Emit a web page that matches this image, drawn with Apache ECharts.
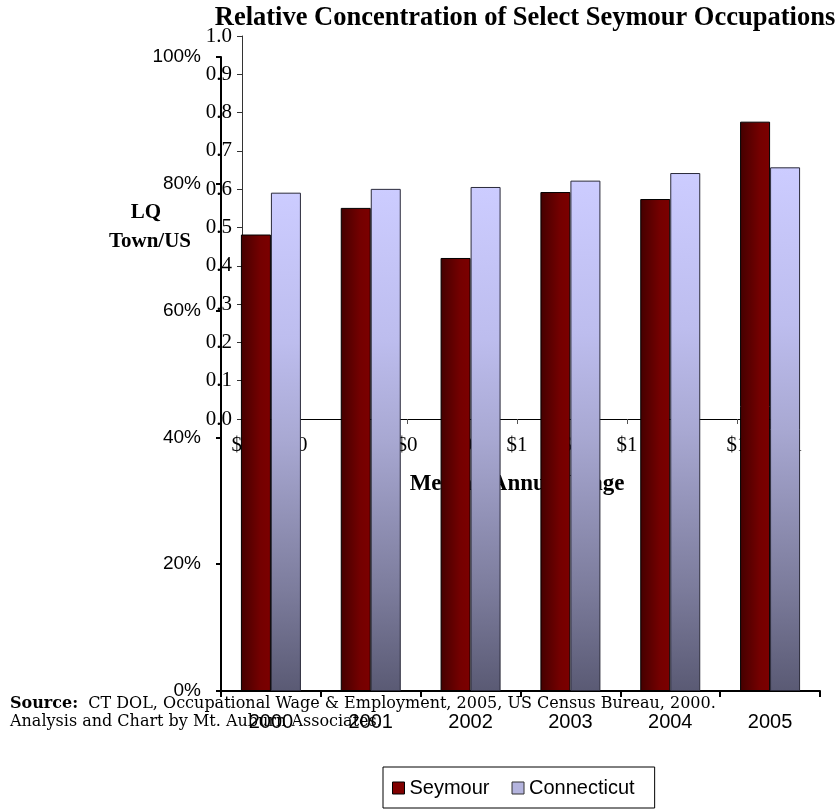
<!DOCTYPE html>
<html>
<head>
<meta charset="utf-8">
<script src="https://cdn.jsdelivr.net/npm/echarts@6/dist/echarts.min.js"></script>
<style>
html,body{margin:0;padding:0;background:#fff;}
#chart{width:840px;height:810px;}
</style>
</head>
<body>
<div id="chart"></div>
<script>
// Front chart (bars, % axis)
const years = ['2000', '2001', '2002', '2003', '2004', '2005'];
const seymour = [72.0, 76.2, 68.3, 78.7, 77.6, 89.8];
const connecticut = [78.6, 79.2, 79.5, 80.5, 81.7, 82.6];
// Back chart (LQ axis and wage axis)
const wageTicks = ['$0', '$0', '$0', '$0', '$0', '$1', '$1', '$1', '$1', '$1', '$1'];
const titleText = 'Relative Concentration of Select Seymour Occupations';
const lqName1 = 'LQ';
const lqName2 = 'Town/US';
const wageName = 'Median Annual Wage';
const sourceLine1 = 'CT DOL, Occupational Wage & Employment, 2005, US Census Bureau, 2000.';
const sourceLine2 = 'Analysis and Chart by Mt. Auburn Associates.';

const chart = echarts.init(document.getElementById('chart'));
const serif = 'Liberation Serif';
const sans = 'Liberation Sans';

const seymourGrad = new echarts.graphic.LinearGradient(0, 0, 1, 0, [
  {offset: 0, color: '#440000'},
  {offset: 0.65, color: '#740000'},
  {offset: 1, color: '#7c0000'}
]);
const ctGrad = new echarts.graphic.LinearGradient(0, 0, 0, 1, [
  {offset: 0, color: '#ccccff'},
  {offset: 0.3, color: '#bdbdee'},
  {offset: 0.5, color: '#a8a8d2'},
  {offset: 0.8, color: '#7c7c9c'},
  {offset: 1, color: '#5a5a74'}
]);

chart.setOption({
  animation: false,
  backgroundColor: '#fff',
  grid: [
    {left: 242, right: 48, top: 36, bottom: 391, containLabel: false},
    {left: 221, right: 20, top: 57, bottom: 119, containLabel: false}
  ],
  xAxis: [
    {
      type: 'category', gridIndex: 0, data: wageTicks, boundaryGap: false,
      axisLine: {lineStyle: {color: '#000', width: 1}},
      axisTick: {show: true, length: 5, lineStyle: {color: '#555'}},
      axisLabel: {color: '#000', fontFamily: serif, fontSize: 21, margin: 16, interval: 0},
      name: wageName, nameLocation: 'middle', nameGap: 54,
      nameTextStyle: {color: '#000', fontFamily: serif, fontSize: 23, fontWeight: 'bold'}
    },
    {
      type: 'category', gridIndex: 1, data: years,
      axisLine: {lineStyle: {color: '#000', width: 2}},
      axisTick: {show: true, length: 6, interval: 0, lineStyle: {color: '#000', width: 2}},
      axisLabel: {color: '#000', fontFamily: sans, fontSize: 20, margin: 21}
    }
  ],
  yAxis: [
    {
      type: 'value', gridIndex: 0, min: 0, max: 1, interval: 0.1,
      axisLine: {show: true, lineStyle: {color: '#333', width: 1}},
      axisTick: {show: true, length: 5, lineStyle: {color: '#333'}},
      splitLine: {show: false},
      axisLabel: {color: '#000', fontFamily: serif, fontSize: 21, margin: 10,
        formatter: v => v.toFixed(1)}
    },
    {
      type: 'value', gridIndex: 1, min: 0, max: 100, interval: 20,
      axisLine: {show: true, lineStyle: {color: '#000', width: 2}},
      axisTick: {show: true, length: 5, lineStyle: {color: '#000', width: 2}},
      splitLine: {show: false},
      axisLabel: {color: '#000', fontFamily: sans, fontSize: 19, margin: 20,
        formatter: '{value}%'}
    }
  ],
  legend: {
    left: 383, top: 767,
    orient: 'horizontal',
    borderColor: '#000', borderWidth: 1, backgroundColor: '#fff',
    padding: [11, 20, 10, 9],
    itemWidth: 12, itemHeight: 12, itemGap: 22,
    icon: 'rect',
    textStyle: {color: '#000', fontFamily: sans, fontSize: 20},
    data: [
      {name: 'Seymour', itemStyle: {color: '#800000', borderColor: '#000', borderWidth: 1}},
      {name: 'Connecticut', itemStyle: {color: '#b4b4de', borderColor: '#333', borderWidth: 1}}
    ]
  },
  series: [
    {
      name: 'Seymour', type: 'bar', xAxisIndex: 1, yAxisIndex: 1,
      data: seymour, barWidth: 30, barGap: '0%',
      itemStyle: {color: seymourGrad, borderColor: '#000', borderWidth: 1}
    },
    {
      name: 'Connecticut', type: 'bar', xAxisIndex: 1, yAxisIndex: 1,
      data: connecticut, barWidth: 30, barGap: '0%',
      itemStyle: {color: ctGrad, borderColor: '#2a2a3a', borderWidth: 1}
    }
  ],
  graphic: [
    {type: 'text', z: 100,
      style: {text: titleText, x: 525, y: 18, fill: '#000', align: 'center', verticalAlign: 'middle',
        font: 'bold 26.5px "Liberation Serif"'}},
    {type: 'text', z: 100,
      style: {text: lqName1, x: 146, y: 213, fill: '#000', align: 'center', verticalAlign: 'middle',
        font: 'bold 21px "Liberation Serif"'}},
    {type: 'text', z: 100,
      style: {text: lqName2, x: 150, y: 242, fill: '#000', align: 'center', verticalAlign: 'middle',
        font: 'bold 21px "Liberation Serif"'}},
    {type: 'text', z: 100,
      style: {text: '{b|Source:}  ' + sourceLine1, x: 10, y: 704, verticalAlign: 'middle',
        fill: '#000', font: '16px "DejaVu Serif"',
        rich: {b: {fontFamily: 'DejaVu Serif', fontWeight: 'bold', fontSize: 16, fill: '#000'}}}},
    {type: 'text', z: 100,
      style: {text: sourceLine2, x: 10, y: 722, verticalAlign: 'middle',
        fill: '#000', font: '16px "DejaVu Serif"'}}
  ]
});
</script>
</body>
</html>
